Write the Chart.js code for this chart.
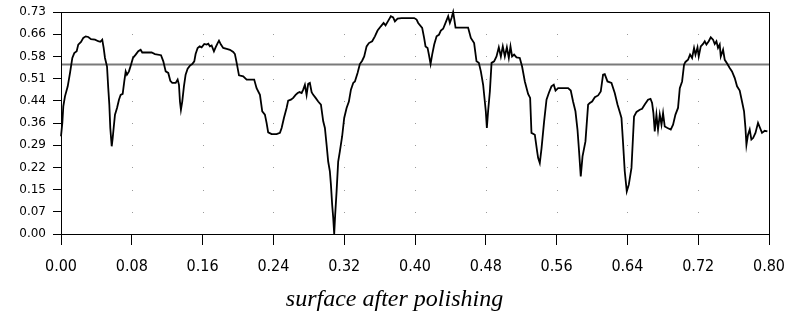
<!DOCTYPE html>
<html>
<head>
<meta charset="utf-8">
<script src="https://cdn.jsdelivr.net/npm/chart.js@4/dist/chart.umd.min.js"></script>
<style>
  html, body { margin: 0; padding: 0; background: #fff; }
  #wrap { width: 789px; height: 322px; }
</style>
</head>
<body>
<div id="wrap"><canvas id="c" width="789" height="322"></canvas></div>
<script>
// Distance along the sample (x) and measured profile height (y)
const distance = [
  0.0000,0.0015,0.0026,0.0045,0.0076,0.0102,0.0128,0.0150,0.0177,0.0195,
  0.0226,0.0252,0.0279,0.0308,0.0339,0.0384,0.0421,0.0444,0.0466,0.0482,
  0.0497,0.0520,0.0534,0.0546,0.0557,0.0573,0.0584,0.0595,0.0610,0.0633,
  0.0655,0.0674,0.0697,0.0715,0.0731,0.0745,0.0768,0.0791,0.0813,0.0844,
  0.0873,0.0900,0.0918,0.0968,0.1024,0.1062,0.1130,0.1156,0.1183,0.1212,
  0.1235,0.1257,0.1296,0.1318,0.1333,0.1344,0.1355,0.1370,0.1389,0.1408,
  0.1431,0.1457,0.1483,0.1506,0.1521,0.1544,0.1567,0.1589,0.1619,0.1646,
  0.1664,0.1683,0.1702,0.1728,0.1747,0.1770,0.1785,0.1807,0.1833,0.1872,
  0.1909,0.1946,0.1965,0.1985,0.2011,0.2059,0.2098,0.2183,0.2210,0.2248,
  0.2274,0.2304,0.2323,0.2341,0.2380,0.2436,0.2474,0.2493,0.2519,0.2549,
  0.2567,0.2598,0.2624,0.2651,0.2674,0.2696,0.2719,0.2737,0.2756,0.2775,
  0.2793,0.2812,0.2832,0.2850,0.2877,0.2906,0.2937,0.2963,0.2982,0.3001,
  0.3019,0.3038,0.3050,0.3064,0.3076,0.3087,0.3098,0.3114,0.3132,0.3151,
  0.3177,0.3200,0.3227,0.3253,0.3276,0.3302,0.3321,0.3351,0.3377,0.3403,
  0.3426,0.3453,0.3479,0.3516,0.3547,0.3577,0.3614,0.3645,0.3667,0.3697,
  0.3727,0.3753,0.3773,0.3803,0.3848,0.3923,0.3991,0.4018,0.4036,0.4081,
  0.4103,0.4119,0.4142,0.4157,0.4176,0.4194,0.4217,0.4244,0.4270,0.4292,
  0.4318,0.4345,0.4375,0.4394,0.4413,0.4431,0.4442,0.4458,0.4507,0.4600,
  0.4631,0.4668,0.4695,0.4721,0.4744,0.4770,0.4789,0.4800,0.4812,0.4826,
  0.4846,0.4865,0.4894,0.4921,0.4947,0.4970,0.4992,0.5015,0.5038,0.5060,
  0.5079,0.5097,0.5120,0.5147,0.5184,0.5210,0.5241,0.5278,0.5301,0.5316,
  0.5354,0.5380,0.5391,0.5410,0.5430,0.5459,0.5486,0.5512,0.5542,0.5568,
  0.5588,0.5617,0.5673,0.5730,0.5760,0.5786,0.5813,0.5836,0.5854,0.5873,
  0.5893,0.5926,0.5956,0.5975,0.6001,0.6032,0.6069,0.6099,0.6125,0.6144,
  0.6175,0.6220,0.6257,0.6288,0.6317,0.6333,0.6351,0.6370,0.6393,0.6416,
  0.6446,0.6475,0.6503,0.6540,0.6566,0.6596,0.6633,0.6661,0.6679,0.6694,
  0.6709,0.6728,0.6746,0.6766,0.6785,0.6803,0.6822,0.6853,0.6890,0.6916,
  0.6943,0.6972,0.6992,0.7018,0.7040,0.7056,0.7085,0.7108,0.7131,0.7153,
  0.7169,0.7192,0.7206,0.7229,0.7255,0.7274,0.7293,0.7319,0.7342,0.7368,
  0.7387,0.7406,0.7424,0.7443,0.7455,0.7481,0.7500,0.7530,0.7556,0.7582,
  0.7613,0.7639,0.7669,0.7695,0.7718,0.7734,0.7745,0.7763,0.7782,0.7801,
  0.7820,0.7847,0.7876,0.7899,0.7921,0.7952,0.7982
];
const profile = [
  0.321,0.365,0.419,0.452,0.485,0.529,0.578,0.594,0.600,0.622,
  0.631,0.644,0.649,0.647,0.640,0.638,0.633,0.631,0.638,0.611,
  0.578,0.550,0.479,0.425,0.348,0.288,0.315,0.348,0.392,0.414,
  0.441,0.457,0.460,0.501,0.534,0.523,0.534,0.556,0.578,0.589,
  0.600,0.605,0.596,0.596,0.596,0.591,0.587,0.567,0.534,0.529,
  0.503,0.496,0.496,0.507,0.490,0.435,0.408,0.435,0.485,0.523,
  0.543,0.553,0.558,0.567,0.591,0.611,0.616,0.613,0.624,0.622,
  0.625,0.616,0.619,0.600,0.613,0.627,0.635,0.622,0.611,0.608,
  0.605,0.598,0.591,0.562,0.521,0.518,0.507,0.507,0.479,0.457,
  0.403,0.392,0.365,0.334,0.328,0.328,0.332,0.348,0.381,0.414,
  0.438,0.441,0.447,0.457,0.463,0.466,0.463,0.474,0.490,0.457,
  0.493,0.496,0.466,0.457,0.447,0.435,0.425,0.370,0.348,0.293,
  0.238,0.206,0.162,0.096,0.053,0.000,0.063,0.140,0.238,0.271,
  0.321,0.381,0.414,0.435,0.474,0.496,0.501,0.529,0.558,0.569,
  0.583,0.616,0.627,0.633,0.649,0.668,0.682,0.693,0.685,0.700,
  0.715,0.711,0.698,0.707,0.709,0.709,0.709,0.704,0.693,0.677,
  0.644,0.616,0.611,0.589,0.558,0.589,0.622,0.649,0.654,0.668,
  0.674,0.693,0.715,0.693,0.709,0.729,0.709,0.678,0.678,0.678,
  0.644,0.627,0.567,0.562,0.534,0.490,0.435,0.403,0.348,0.403,
  0.468,0.562,0.567,0.583,0.613,0.583,0.616,0.583,0.613,0.578,
  0.616,0.583,0.589,0.580,0.578,0.550,0.501,0.460,0.447,0.332,
  0.326,0.271,0.250,0.233,0.282,0.370,0.441,0.463,0.485,0.490,
  0.471,0.479,0.479,0.479,0.471,0.435,0.403,0.343,0.271,0.189,
  0.255,0.304,0.425,0.430,0.435,0.449,0.455,0.468,0.523,0.525,
  0.501,0.496,0.463,0.425,0.397,0.381,0.299,0.206,0.140,0.162,
  0.217,0.386,0.401,0.408,0.411,0.425,0.441,0.444,0.430,0.397,
  0.337,0.392,0.343,0.392,0.359,0.397,0.353,0.348,0.343,0.359,
  0.392,0.414,0.479,0.501,0.556,0.565,0.572,0.589,0.578,0.611,
  0.589,0.613,0.583,0.616,0.624,0.633,0.622,0.633,0.646,0.638,
  0.624,0.633,0.611,0.622,0.583,0.605,0.572,0.558,0.545,0.534,
  0.512,0.485,0.471,0.435,0.403,0.348,0.293,0.326,0.343,0.310,
  0.315,0.332,0.365,0.348,0.332,0.339,0.337
];
// Horizontal reference level across the whole profile
const refLevel = 0.557;

const xTickLabels = ['0.00','0.08','0.16','0.24','0.32','0.40','0.48','0.56','0.64','0.72','0.80'];
const yTickLabels = ['0.00','0.07','0.15','0.22','0.29','0.36','0.44','0.51','0.58','0.66','0.73'];
const xMax = 0.80;
const yMax = 0.729;
const caption = 'surface after polishing';

const profilePoints = distance.map((d, i) => ({ x: d, y: profile[i] }));
const refPoints = [{ x: 0, y: refLevel }, { x: xMax, y: refLevel }];

function evenTicks(labels, max) {
  return labels.map((_, i) => ({ value: i * max / (labels.length - 1) }));
}

// Dotted grid: single dots where the tick positions cross, plus the box outline
const gridDotsAndFrame = {
  id: 'gridDotsAndFrame',
  beforeDatasetsDraw(chart) {
    const { ctx, scales: { x, y } } = chart;
    ctx.save();
    ctx.fillStyle = '#9a9a9a';
    const xs = x.ticks.slice(1, -1).map(t => Math.round(x.getPixelForValue(t.value)));
    const ys = y.ticks.slice(1, -1).map(t => Math.round(y.getPixelForValue(t.value)));
    xs.forEach(px => ys.forEach(py => ctx.fillRect(px, py, 1, 1)));
    ctx.restore();
  },
  afterDraw(chart) {
    const { ctx, chartArea: a } = chart;
    ctx.save();
    ctx.strokeStyle = '#000';
    ctx.lineWidth = 1;
    ctx.strokeRect(Math.round(a.left) + 0.5, Math.round(a.top) + 0.5,
                   Math.round(a.right - a.left), Math.round(a.bottom - a.top));
    ctx.restore();
  }
};

new Chart(document.getElementById('c'), {
  type: 'line',
  data: {
    datasets: [
      {
        data: profilePoints,
        borderColor: '#000',
        borderWidth: 1.8,
        pointRadius: 0,
        tension: 0,
        clip: false
      },
      {
        data: refPoints,
        borderColor: '#7a7a7a',
        borderWidth: 2,
        pointRadius: 0,
        tension: 0
      }
    ]
  },
  options: {
    responsive: false,
    devicePixelRatio: 1,
    animation: false,
    events: [],
    layout: { padding: { top: 12, right: 0, left: 0, bottom: 0 } },
    plugins: {
      legend: { display: false },
      tooltip: { enabled: false },
      title: {
        display: true,
        position: 'bottom',
        text: caption,
        color: '#000',
        font: { family: "'Liberation Serif', 'Times New Roman', serif", size: 24, style: 'italic', weight: 'normal', lineHeight: 1.2 },
        padding: { top: 0, bottom: 8 }
      }
    },
    scales: {
      x: {
        type: 'linear',
        min: 0,
        max: xMax,
        afterBuildTicks: s => { s.ticks = evenTicks(xTickLabels, xMax); },
        afterFit: s => { s.height = 51.2; s.paddingLeft = 0; s.paddingRight = 0; },
        ticks: {
          autoSkip: false,
          maxRotation: 0,
          padding: 12,
          color: '#000',
          font: { family: "'DejaVu Sans Condensed', 'DejaVu Sans'", size: 16 },
          callback: (v, i) => xTickLabels[i]
        },
        grid: { drawOnChartArea: false, drawTicks: true, tickLength: 11, color: '#000' },
        border: { color: '#000', width: 1 }
      },
      y: {
        type: 'linear',
        min: 0,
        max: yMax,
        afterBuildTicks: s => { s.ticks = evenTicks(yTickLabels, yMax); },
        afterFit: s => { s.width = 61; s.paddingTop = 0; s.paddingBottom = 0; },
        ticks: {
          autoSkip: false,
          padding: 7,
          color: '#000',
          font: { family: "'DejaVu Sans'", size: 12 },
          callback: (v, i) => yTickLabels[i]
        },
        grid: { drawOnChartArea: false, drawTicks: true, tickLength: 8, color: '#000' },
        border: { color: '#000', width: 1 }
      },
      // empty right-hand margin so the plot box ends short of the canvas edge
      margin: {
        type: 'linear',
        position: 'right',
        display: true,
        ticks: { display: false },
        grid: { display: false },
        border: { display: false },
        afterFit: s => { s.width = 20; }
      }
    }
  },
  plugins: [gridDotsAndFrame]
});
</script>
</body>
</html>
